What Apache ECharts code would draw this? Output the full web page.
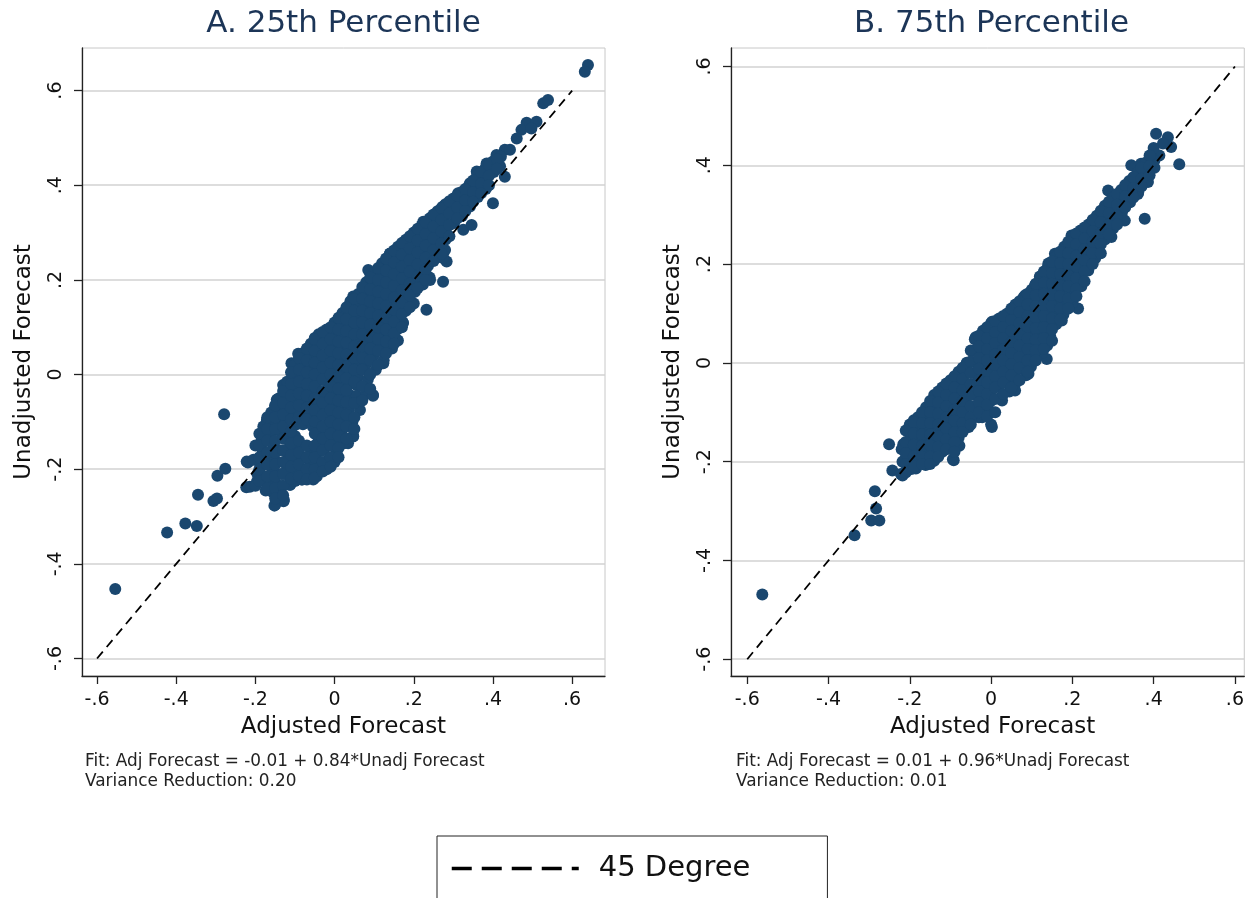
<!DOCTYPE html>
<html><head><meta charset="utf-8">
<script src="https://cdn.jsdelivr.net/npm/echarts@6/dist/echarts.min.js"></script>
<style>html,body{margin:0;padding:0;background:#fff}#c{width:1247px;height:898px}</style>
</head><body><div id="c"></div>
<script>
// ---------- DATA ----------
const tickValues = [-0.6, -0.4, -0.2, 0, 0.2, 0.4, 0.6];
const tickLabels = ['-.6', '-.4', '-.2', '0', '.2', '.4', '.6'];
const panelTitles = ['A. 25th Percentile', 'B. 75th Percentile'];
const xAxisTitle = 'Adjusted Forecast';
const yAxisTitle = 'Unadjusted Forecast';
const notesA = ['Fit: Adj Forecast = -0.01 + 0.84*Unadj Forecast', 'Variance Reduction: 0.20'];
const notesB = ['Fit: Adj Forecast = 0.01 + 0.96*Unadj Forecast', 'Variance Reduction: 0.01'];
const diagonalEnds = [-0.6, 0.6];
const legendLabel = '45 Degree';

// Panel A: [adjusted, unadjusted]
const panelA = [
[-0.554,-0.453],[-0.423,-0.334],[-0.377,-0.315],[-0.348,-0.32],[-0.345,-0.254],[-0.306,-0.267],[-0.297,-0.262],
[-0.296,-0.214],[-0.276,-0.199],[-0.279,-0.084],[-0.219,-0.186],[-0.223,-0.238],[-0.196,-0.226],[-0.152,-0.277],
[-0.129,-0.268],[-0.112,-0.233],[-0.083,-0.222],[-0.184,-0.138],[-0.171,-0.096],[-0.15,-0.068],[-0.146,-0.053],
[-0.13,-0.022],[-0.109,0.024],[-0.092,0.044],[-0.05,0.077],[0.009,0.115],[0.047,0.165],[0.085,0.221],[0.131,0.232],
[0.157,0.256],[0.178,0.281],[0.224,0.323],[0.274,0.355],[0.097,-0.043],[0.056,-0.022],[0.123,0.024],[0.157,0.073],
[0.173,0.109],[0.232,0.137],[0.274,0.196],[0.241,0.2],[0.215,0.196],[0.274,0.256],[0.283,0.239],[-0.054,-0.222],
[-0.02,-0.187],[0.047,-0.131],[0.034,-0.145],[0.022,-0.096],[-0.222,-0.184],[-0.189,-0.187],[-0.184,-0.222],[-0.214,-0.237],
[0.64,0.654],[0.632,0.64],[0.527,0.573],[0.539,0.58],[0.485,0.532],[0.51,0.534],[0.472,0.517],[0.46,0.499],[0.497,0.52],
[0.43,0.475],[0.443,0.475],[0.409,0.464],[0.384,0.446],[0.43,0.418],[0.359,0.429],[0.367,0.411],[0.342,0.404],[0.35,0.386],
[0.4,0.362],[0.312,0.383],[0.308,0.369],[0.283,0.355],[0.333,0.358],[0.249,0.334],[0.325,0.306],[0.346,0.316],[0.27,0.306],
[0.279,0.263],[0.274,0.246],[0.182,0.284],[0.232,0.291],[0.14,0.256],[0.165,0.242],[0.241,0.256],
[-0.2,-0.15],[-0.205,-0.18],[-0.195,-0.21],[-0.2,-0.235],
[-0.18,-0.11],[-0.178,-0.135],[-0.182,-0.16],[-0.176,-0.19],[-0.18,-0.215],[-0.174,-0.245],
[-0.16,-0.08],[-0.158,-0.1],[-0.162,-0.125],[-0.155,-0.15],[-0.16,-0.175],[-0.157,-0.2],[-0.163,-0.225],[-0.155,-0.25],[-0.15,-0.275],
[-0.14,-0.05],[-0.138,-0.07],[-0.142,-0.095],[-0.136,-0.12],[-0.14,-0.16],[-0.144,-0.185],[-0.135,-0.21],[-0.14,-0.235],[-0.128,-0.265],
[-0.12,-0.015],[-0.122,-0.04],[-0.118,-0.065],[-0.12,-0.09],[-0.124,-0.115],[-0.116,-0.14],[-0.12,-0.165],[-0.122,-0.19],[-0.115,-0.215],[-0.113,-0.233],
[-0.1,0.02],[-0.102,-0.005],[-0.098,-0.03],[-0.1,-0.055],[-0.104,-0.08],[-0.096,-0.105],[-0.1,-0.13],[-0.1,-0.155],[-0.102,-0.18],[-0.097,-0.205],[-0.1,-0.225],
[-0.08,0.045],[-0.082,0.02],[-0.078,-0.005],[-0.08,-0.03],[-0.084,-0.055],[-0.077,-0.08],[-0.08,-0.105],[-0.083,-0.15],[-0.078,-0.175],[-0.08,-0.2],[-0.082,-0.222],
[-0.06,0.065],[-0.062,0.04],[-0.058,0.015],[-0.06,-0.01],[-0.064,-0.035],[-0.057,-0.06],[-0.06,-0.085],[-0.055,-0.11],[-0.06,-0.16],[-0.062,-0.185],[-0.056,-0.21],
[-0.04,0.085],[-0.042,0.06],[-0.038,0.035],[-0.04,0.01],[-0.044,-0.015],[-0.037,-0.04],[-0.04,-0.065],[-0.042,-0.09],[-0.038,-0.115],[-0.04,-0.14],[-0.043,-0.165],[-0.037,-0.19],[-0.045,-0.215],
[-0.02,0.095],[-0.022,0.07],[-0.018,0.045],[-0.02,0.02],[-0.024,-0.005],[-0.017,-0.03],[-0.02,-0.055],[-0.022,-0.08],[-0.018,-0.105],[-0.02,-0.13],[-0.024,-0.155],[-0.016,-0.18],[-0.02,-0.2],
[0,0.11],[-0.002,0.085],[0.002,0.06],[0,0.035],[-0.004,0.01],[0.003,-0.015],[0,-0.04],[-0.002,-0.065],[0.002,-0.09],[0,-0.115],[-0.003,-0.14],[0.004,-0.165],[0,-0.185],
[0.02,0.13],[0.018,0.105],[0.022,0.08],[0.02,0.055],[0.016,0.03],[0.023,0.005],[0.02,-0.02],[0.018,-0.045],[0.022,-0.07],[0.02,-0.095],[0.017,-0.12],[0.024,-0.145],
[0.04,0.155],[0.038,0.13],[0.042,0.105],[0.04,0.08],[0.036,0.055],[0.043,0.03],[0.04,0.005],[0.038,-0.02],[0.042,-0.045],[0.035,-0.075],[0.045,-0.1],[0.047,-0.13],
[0.06,0.17],[0.058,0.145],[0.062,0.12],[0.06,0.095],[0.056,0.07],[0.063,0.045],[0.06,0.02],[0.058,-0.005],[0.056,-0.045],[0.064,-0.075],
[0.08,0.195],[0.078,0.17],[0.082,0.145],[0.08,0.12],[0.076,0.095],[0.083,0.07],[0.08,0.045],[0.078,0.02],[0.084,-0.01],[0.08,-0.04],
[0.1,0.215],[0.098,0.19],[0.102,0.165],[0.1,0.14],[0.096,0.115],[0.103,0.09],[0.1,0.065],[0.098,0.04],[0.104,0.01],[0.097,-0.045],
[0.12,0.235],[0.118,0.21],[0.122,0.185],[0.12,0.16],[0.116,0.135],[0.123,0.11],[0.12,0.085],[0.118,0.06],[0.124,0.03],
[0.14,0.255],[0.138,0.23],[0.142,0.205],[0.14,0.18],[0.136,0.155],[0.143,0.13],[0.14,0.105],[0.138,0.08],[0.145,0.055],
[0.16,0.27],[0.158,0.245],[0.162,0.22],[0.16,0.195],[0.156,0.17],[0.163,0.145],[0.16,0.12],[0.158,0.095],[0.16,0.072],
[0.18,0.285],[0.178,0.26],[0.182,0.235],[0.18,0.21],[0.176,0.185],[0.183,0.16],[0.18,0.135],[0.172,0.11],
[0.2,0.3],[0.198,0.275],[0.202,0.25],[0.2,0.225],[0.196,0.2],[0.203,0.175],[0.2,0.15],
[0.22,0.315],[0.218,0.29],[0.222,0.265],[0.22,0.24],[0.216,0.215],[0.223,0.19],
[0.24,0.33],[0.238,0.305],[0.242,0.28],[0.24,0.255],[0.236,0.23],[0.24,0.205],
[0.26,0.345],[0.258,0.32],[0.262,0.295],[0.26,0.27],[0.256,0.25],
[0.28,0.36],[0.278,0.335],[0.282,0.31],[0.28,0.285],
[0.3,0.372],[0.298,0.345],[0.302,0.32],
[0.32,0.385],[0.318,0.36],[0.322,0.335],
[0.34,0.4],[0.338,0.375],[0.342,0.355],
[0.36,0.42],[0.358,0.395],[0.362,0.375],
[0.38,0.435],[0.378,0.41],[0.382,0.392],
[0.4,0.45],[0.402,0.428],[0.42,0.46],[0.418,0.44],
[-0.19,-0.125],[-0.19,-0.15],[-0.19,-0.175],[-0.19,-0.2],[-0.19,-0.225],
[-0.17,-0.09],[-0.17,-0.115],[-0.17,-0.14],[-0.17,-0.165],[-0.17,-0.19],[-0.17,-0.215],[-0.17,-0.24],
[-0.15,-0.065],[-0.15,-0.09],[-0.15,-0.115],[-0.15,-0.14],[-0.15,-0.165],[-0.15,-0.19],[-0.15,-0.215],[-0.15,-0.24],[-0.15,-0.262],
[-0.13,-0.035],[-0.13,-0.06],[-0.13,-0.085],[-0.13,-0.11],[-0.13,-0.135],[-0.13,-0.16],[-0.13,-0.185],[-0.13,-0.21],[-0.13,-0.235],[-0.13,-0.255],
[-0.11,0.005],[-0.11,-0.02],[-0.11,-0.045],[-0.11,-0.07],[-0.11,-0.095],[-0.11,-0.12],[-0.11,-0.145],[-0.11,-0.17],[-0.11,-0.195],[-0.11,-0.22],
[-0.09,0.035],[-0.09,0.01],[-0.09,-0.015],[-0.09,-0.04],[-0.09,-0.065],[-0.09,-0.09],[-0.09,-0.14],[-0.09,-0.165],[-0.09,-0.19],[-0.09,-0.215],
[-0.07,0.055],[-0.07,0.03],[-0.07,0.005],[-0.07,-0.02],[-0.07,-0.045],[-0.07,-0.07],[-0.07,-0.095],[-0.07,-0.15],[-0.07,-0.175],[-0.07,-0.2],[-0.07,-0.222],
[-0.05,0.075],[-0.05,0.05],[-0.05,0.025],[-0.05,0],[-0.05,-0.025],[-0.05,-0.05],[-0.05,-0.075],[-0.05,-0.1],[-0.05,-0.125],[-0.05,-0.15],[-0.05,-0.175],[-0.05,-0.2],[-0.05,-0.218],
[-0.03,0.09],[-0.03,0.065],[-0.03,0.04],[-0.03,0.015],[-0.03,-0.01],[-0.03,-0.035],[-0.03,-0.06],[-0.03,-0.085],[-0.03,-0.11],[-0.03,-0.135],[-0.03,-0.16],[-0.03,-0.185],[-0.03,-0.205],
[-0.01,0.1],[-0.01,0.075],[-0.01,0.05],[-0.01,0.025],[-0.01,0],[-0.01,-0.025],[-0.01,-0.05],[-0.01,-0.075],[-0.01,-0.1],[-0.01,-0.125],[-0.01,-0.15],[-0.01,-0.175],[-0.01,-0.195],
[0.01,0.12],[0.01,0.095],[0.01,0.07],[0.01,0.045],[0.01,0.02],[0.01,-0.005],[0.01,-0.03],[0.01,-0.055],[0.01,-0.08],[0.01,-0.105],[0.01,-0.13],[0.01,-0.155],[0.01,-0.175],
[0.03,0.142],[0.03,0.117],[0.03,0.092],[0.03,0.067],[0.03,0.042],[0.03,0.017],[0.03,-0.008],[0.03,-0.033],[0.03,-0.058],[0.03,-0.085],[0.03,-0.11],[0.03,-0.135],
[0.05,0.16],[0.05,0.135],[0.05,0.11],[0.05,0.085],[0.05,0.06],[0.05,0.035],[0.05,0.01],[0.05,-0.015],[0.05,-0.06],[0.05,-0.09],[0.05,-0.115],
[0.07,0.185],[0.07,0.16],[0.07,0.135],[0.07,0.11],[0.07,0.085],[0.07,0.06],[0.07,0.035],[0.07,0.01],[0.07,-0.025],[0.07,-0.055],
[0.09,0.205],[0.09,0.18],[0.09,0.155],[0.09,0.13],[0.09,0.105],[0.09,0.08],[0.09,0.055],[0.09,0.03],[0.09,0.0],[0.09,-0.03],
[0.11,0.225],[0.11,0.2],[0.11,0.175],[0.11,0.15],[0.11,0.125],[0.11,0.1],[0.11,0.075],[0.11,0.05],[0.11,0.02],
[0.13,0.245],[0.13,0.22],[0.13,0.195],[0.13,0.17],[0.13,0.145],[0.13,0.12],[0.13,0.095],[0.13,0.07],[0.13,0.045],
[0.15,0.262],[0.15,0.237],[0.15,0.212],[0.15,0.187],[0.15,0.162],[0.15,0.137],[0.15,0.112],[0.15,0.087],[0.15,0.065],
[0.17,0.278],[0.17,0.253],[0.17,0.228],[0.17,0.203],[0.17,0.178],[0.17,0.153],[0.17,0.128],[0.17,0.1],
[0.19,0.292],[0.19,0.267],[0.19,0.242],[0.19,0.217],[0.19,0.192],[0.19,0.167],[0.19,0.142],
[0.21,0.308],[0.21,0.283],[0.21,0.258],[0.21,0.233],[0.21,0.208],[0.21,0.183],
[0.23,0.322],[0.23,0.297],[0.23,0.272],[0.23,0.247],[0.23,0.222],[0.23,0.2],
[0.25,0.338],[0.25,0.313],[0.25,0.288],[0.25,0.263],[0.25,0.24],
[0.27,0.352],[0.27,0.327],[0.27,0.302],[0.27,0.277],[0.27,0.255],
[0.29,0.366],[0.29,0.341],[0.29,0.316],[0.29,0.292],
[0.31,0.378],[0.31,0.353],[0.31,0.33],
[0.33,0.392],[0.33,0.368],[0.33,0.345],
[0.35,0.41],[0.35,0.385],[0.35,0.365],
[0.37,0.428],[0.37,0.403],[0.37,0.383],
[0.39,0.442],[0.39,0.42],[0.39,0.4],
[0.41,0.455],[0.41,0.435]
];

// Panel B: [adjusted, unadjusted]
const panelB = [
[-0.563,-0.469],[-0.336,-0.349],[-0.295,-0.319],[-0.275,-0.319],[-0.283,-0.295],[-0.286,-0.26],[-0.251,-0.165],[-0.216,-0.165],
[-0.243,-0.218],[-0.218,-0.228],[-0.216,-0.199],[-0.185,-0.214],[-0.161,-0.207],[-0.157,-0.191],[-0.12,-0.177],[-0.092,-0.197],
[-0.186,-0.13],[-0.19,-0.116],[-0.161,-0.103],[-0.136,-0.069],[-0.112,-0.049],[-0.096,-0.039],[-0.063,-0.008],[-0.038,0.052],
[0.002,0.083],[0.043,0.1],[0.084,0.137],[0.108,0.157],[0.141,0.201],[0.157,0.221],[0.198,0.258],[0.239,0.275],[0.214,0.11],
[0.219,0.157],[0.239,0.187],[0.137,0.008],[0.092,-0.022],[0.145,0.056],[0.117,0.029],[0.059,-0.056],[0.027,-0.076],[0.002,-0.13],
[-0.03,-0.11],[-0.055,-0.13],[-0.12,-0.17],[0.174,0.086],[0.182,0.127],
[0.406,0.464],[0.435,0.457],[0.443,0.437],[0.423,0.444],[0.463,0.402],[0.345,0.4],[0.369,0.403],[0.402,0.41],[0.414,0.42],
[0.378,0.376],[0.353,0.369],[0.386,0.366],[0.288,0.349],[0.345,0.346],[0.361,0.342],[0.378,0.292],[0.304,0.329],[0.288,0.315],
[0.333,0.329],[0.272,0.302],[0.263,0.288],[0.304,0.295],[0.329,0.288],[0.239,0.268],[0.206,0.258],[0.288,0.268],[0.296,0.255],
[0.165,0.218],[0.19,0.218],[0.231,0.221],[0.255,0.214],
[-0.22,-0.175],[-0.218,-0.2],[-0.222,-0.225],
[-0.2,-0.125],[-0.198,-0.148],[-0.202,-0.17],[-0.2,-0.195],[-0.196,-0.215],
[-0.18,-0.11],[-0.182,-0.132],[-0.178,-0.155],[-0.18,-0.178],[-0.184,-0.2],
[-0.16,-0.09],[-0.158,-0.112],[-0.162,-0.135],[-0.16,-0.158],[-0.156,-0.18],[-0.162,-0.203],
[-0.14,-0.065],[-0.142,-0.088],[-0.138,-0.11],[-0.14,-0.133],[-0.144,-0.155],[-0.137,-0.178],[-0.14,-0.198],
[-0.12,-0.05],[-0.118,-0.072],[-0.122,-0.095],[-0.12,-0.118],[-0.116,-0.14],[-0.123,-0.163],[-0.12,-0.18],
[-0.1,-0.035],[-0.102,-0.058],[-0.098,-0.08],[-0.1,-0.103],[-0.104,-0.125],[-0.097,-0.148],[-0.1,-0.17],[-0.094,-0.195],
[-0.08,-0.018],[-0.078,-0.04],[-0.082,-0.063],[-0.08,-0.085],[-0.076,-0.108],[-0.083,-0.13],[-0.08,-0.152],[-0.078,-0.168],
[-0.06,0.0],[-0.062,-0.022],[-0.058,-0.045],[-0.06,-0.068],[-0.064,-0.09],[-0.057,-0.113],[-0.06,-0.13],
[-0.04,0.048],[-0.042,0.025],[-0.038,0.002],[-0.04,-0.02],[-0.044,-0.043],[-0.037,-0.065],[-0.04,-0.088],[-0.042,-0.11],
[-0.02,0.065],[-0.018,0.042],[-0.022,0.02],[-0.02,-0.003],[-0.016,-0.025],[-0.023,-0.048],[-0.02,-0.07],[-0.018,-0.093],[-0.022,-0.11],
[0,0.08],[-0.002,0.057],[0.002,0.035],[0,0.012],[-0.004,-0.01],[0.003,-0.033],[0,-0.055],[-0.002,-0.078],[0.002,-0.1],[0,-0.125],
[0.02,0.09],[0.018,0.067],[0.022,0.045],[0.02,0.022],[0.016,0.0],[0.023,-0.023],[0.02,-0.045],[0.024,-0.07],
[0.04,0.1],[0.038,0.078],[0.042,0.055],[0.04,0.033],[0.036,0.01],[0.043,-0.013],[0.04,-0.035],[0.045,-0.058],
[0.06,0.118],[0.058,0.095],[0.062,0.073],[0.06,0.05],[0.056,0.028],[0.063,0.005],[0.06,-0.018],[0.058,-0.045],
[0.08,0.133],[0.078,0.11],[0.082,0.088],[0.08,0.065],[0.076,0.043],[0.083,0.02],[0.08,-0.003],[0.086,-0.025],
[0.1,0.148],[0.098,0.125],[0.102,0.103],[0.1,0.08],[0.096,0.058],[0.103,0.035],[0.1,0.012],[0.098,-0.008],
[0.12,0.175],[0.118,0.152],[0.122,0.13],[0.12,0.107],[0.116,0.085],[0.123,0.062],[0.12,0.04],[0.125,0.02],
[0.14,0.195],[0.138,0.172],[0.142,0.15],[0.14,0.127],[0.136,0.105],[0.143,0.082],[0.14,0.06],[0.138,0.035],
[0.16,0.215],[0.158,0.192],[0.162,0.17],[0.16,0.147],[0.156,0.125],[0.163,0.1],[0.16,0.078],
[0.18,0.235],[0.178,0.212],[0.182,0.19],[0.18,0.167],[0.176,0.145],[0.183,0.12],[0.178,0.098],
[0.2,0.255],[0.198,0.232],[0.202,0.21],[0.2,0.187],[0.196,0.165],[0.203,0.14],[0.2,0.122],
[0.22,0.268],[0.218,0.245],[0.222,0.222],[0.22,0.2],[0.216,0.177],[0.222,0.155],
[0.24,0.28],[0.238,0.257],[0.242,0.235],[0.24,0.212],[0.236,0.192],
[0.26,0.298],[0.258,0.275],[0.262,0.253],[0.26,0.23],[0.256,0.212],
[0.28,0.318],[0.278,0.295],[0.282,0.272],[0.28,0.25],
[0.3,0.335],[0.298,0.312],[0.302,0.29],[0.3,0.272],
[0.32,0.35],[0.318,0.328],[0.322,0.305],
[0.34,0.368],[0.338,0.345],[0.342,0.325],
[0.36,0.385],[0.358,0.362],[0.362,0.345],
[0.38,0.405],[0.378,0.385],[0.382,0.37],
[0.4,0.435],[0.398,0.412],[0.402,0.395],
[-0.21,-0.137],[-0.21,-0.16],[-0.21,-0.183],[-0.21,-0.205],[-0.21,-0.222],
[-0.19,-0.12],[-0.19,-0.143],[-0.19,-0.166],[-0.19,-0.189],[-0.19,-0.21],
[-0.17,-0.1],[-0.17,-0.122],[-0.17,-0.145],[-0.17,-0.168],[-0.17,-0.19],[-0.17,-0.205],
[-0.15,-0.077],[-0.15,-0.1],[-0.15,-0.122],[-0.15,-0.145],[-0.15,-0.167],[-0.15,-0.19],[-0.15,-0.205],
[-0.13,-0.058],[-0.13,-0.08],[-0.13,-0.103],[-0.13,-0.125],[-0.13,-0.148],[-0.13,-0.17],[-0.13,-0.19],
[-0.11,-0.042],[-0.11,-0.065],[-0.11,-0.088],[-0.11,-0.11],[-0.11,-0.133],[-0.11,-0.155],[-0.11,-0.175],
[-0.09,-0.027],[-0.09,-0.05],[-0.09,-0.072],[-0.09,-0.095],[-0.09,-0.117],[-0.09,-0.14],[-0.09,-0.16],[-0.09,-0.18],
[-0.07,-0.01],[-0.07,-0.032],[-0.07,-0.055],[-0.07,-0.077],[-0.07,-0.1],[-0.07,-0.122],[-0.07,-0.14],
[-0.05,0.025],[-0.05,0.003],[-0.05,-0.02],[-0.05,-0.043],[-0.05,-0.065],[-0.05,-0.088],[-0.05,-0.11],[-0.05,-0.125],
[-0.03,0.055],[-0.03,0.033],[-0.03,0.01],[-0.03,-0.012],[-0.03,-0.035],[-0.03,-0.057],[-0.03,-0.08],[-0.03,-0.1],
[-0.01,0.072],[-0.01,0.05],[-0.01,0.027],[-0.01,0.005],[-0.01,-0.018],[-0.01,-0.04],[-0.01,-0.063],[-0.01,-0.085],[-0.01,-0.108],
[0.01,0.085],[0.01,0.062],[0.01,0.04],[0.01,0.017],[0.01,-0.005],[0.01,-0.028],[0.01,-0.05],[0.01,-0.073],[0.01,-0.1],
[0.03,0.095],[0.03,0.072],[0.03,0.05],[0.03,0.027],[0.03,0.005],[0.03,-0.018],[0.03,-0.04],[0.03,-0.063],
[0.05,0.11],[0.05,0.087],[0.05,0.065],[0.05,0.042],[0.05,0.02],[0.05,-0.003],[0.05,-0.025],[0.05,-0.05],
[0.07,0.125],[0.07,0.103],[0.07,0.08],[0.07,0.058],[0.07,0.035],[0.07,0.012],[0.07,-0.01],[0.07,-0.035],
[0.09,0.14],[0.09,0.118],[0.09,0.095],[0.09,0.073],[0.09,0.05],[0.09,0.028],[0.09,0.005],[0.09,-0.018],
[0.11,0.16],[0.11,0.137],[0.11,0.115],[0.11,0.092],[0.11,0.07],[0.11,0.047],[0.11,0.025],[0.11,0.005],
[0.13,0.185],[0.13,0.162],[0.13,0.14],[0.13,0.117],[0.13,0.095],[0.13,0.072],[0.13,0.05],[0.13,0.028],
[0.15,0.205],[0.15,0.182],[0.15,0.16],[0.15,0.137],[0.15,0.115],[0.15,0.09],[0.15,0.068],[0.15,0.045],
[0.17,0.225],[0.17,0.202],[0.17,0.18],[0.17,0.157],[0.17,0.135],[0.17,0.11],[0.17,0.088],
[0.19,0.245],[0.19,0.222],[0.19,0.2],[0.19,0.177],[0.19,0.155],[0.19,0.13],[0.19,0.11],
[0.21,0.262],[0.21,0.24],[0.21,0.217],[0.21,0.195],[0.21,0.172],[0.21,0.15],[0.21,0.135],
[0.23,0.274],[0.23,0.252],[0.23,0.23],[0.23,0.207],[0.23,0.185],[0.23,0.165],
[0.25,0.29],[0.25,0.267],[0.25,0.245],[0.25,0.222],[0.25,0.2],
[0.27,0.308],[0.27,0.285],[0.27,0.262],[0.27,0.24],[0.27,0.222],
[0.29,0.326],[0.29,0.303],[0.29,0.28],[0.29,0.26],
[0.31,0.342],[0.31,0.32],[0.31,0.298],[0.31,0.28],
[0.33,0.36],[0.33,0.337],[0.33,0.315],
[0.35,0.376],[0.35,0.354],[0.35,0.335],
[0.37,0.395],[0.37,0.373],[0.37,0.357],
[0.39,0.42],[0.39,0.398],[0.39,0.38]
];

// ---------- CHART ----------
const FONT = 'DejaVu Sans';
const MARKER = '#1a476f';
const fmt = v => { const i = tickValues.findIndex(t => Math.abs(t - v) < 1e-9); return i >= 0 ? tickLabels[i] : ''; };

function xAxisCfg(gridIndex, min, max, namePad) {
  return {
    type: 'value', gridIndex, min, max,
    name: xAxisTitle, nameLocation: 'middle', nameGap: 40,
    nameTextStyle: { fontFamily: FONT, fontSize: 23, color: '#111', padding: namePad },
    axisLine: { show: true, onZero: false, lineStyle: { color: '#222', width: 1.3 } },
    axisTick: { show: true, inside: false, length: 8, customValues: tickValues, lineStyle: { color: '#222', width: 1.3 } },
    axisLabel: { customValues: tickValues, formatter: fmt, margin: 15, fontFamily: FONT, fontSize: 19, color: '#111', showMinLabel: true, showMaxLabel: true },
    splitLine: { show: false }
  };
}
function yAxisCfg(gridIndex, min, max) {
  return {
    type: 'value', gridIndex, min, max,
    name: yAxisTitle, nameLocation: 'middle', nameGap: 46,
    nameTextStyle: { fontFamily: FONT, fontSize: 23, color: '#111' },
    axisLine: { show: true, onZero: false, lineStyle: { color: '#222', width: 1.3 } },
    axisTick: { show: true, inside: false, length: 8, customValues: tickValues, lineStyle: { color: '#222', width: 1.3 } },
    axisLabel: { customValues: tickValues, formatter: fmt, rotate: 90, margin: 16, fontFamily: FONT, fontSize: 19, color: '#111' },
    splitLine: { show: true, lineStyle: { color: '#d2d2d2', width: 1.6 } }
  };
}

const scatterStyle = { color: MARKER, opacity: 1 };
const diagStyle = { color: '#000', width: 1.8, type: [9, 6] };

const chart = echarts.init(document.getElementById('c'), null, { renderer: 'canvas' });
chart.setOption({
  backgroundColor: '#fff',
  animation: false,
  grid: [
    { left: 82, right: 642, top: 48, bottom: 222, show: true, borderColor: '#c8c8c8', borderWidth: 1 },
    { left: 731, right: 0, top: 48, bottom: 222, show: true, borderColor: '#c8c8c8', borderWidth: 1 }
  ],
  xAxis: [xAxisCfg(0, -0.638, 0.683, [0, 0, 0, 0]), xAxisCfg(1, -0.64, 0.623, [0, 0, 0, 10])],
  yAxis: [yAxisCfg(0, -0.637, 0.69), yAxisCfg(1, -0.634, 0.6375)],
  legend: {
    data: [legendLabel], left: 437, top: 836, orient: 'horizontal',
    itemWidth: 127, itemHeight: 20, padding: [18, 77, 55, 13],
    borderColor: '#222', borderWidth: 1, selectedMode: false,
    textStyle: { fontFamily: FONT, fontSize: 29, color: '#111', padding: [0, 0, 0, 15] },
    itemStyle: { color: 'rgba(0,0,0,0)', opacity: 0, borderWidth: 0 },
    lineStyle: { width: 3.5, type: [20, 10], color: '#000' }
  },
  graphic: [
    { type: 'text', x: 343.5, y: 24, style: { text: panelTitles[0], align: 'center', verticalAlign: 'middle', font: '31px "DejaVu Sans"', fill: '#1c3557' } },
    { type: 'text', x: 991.5, y: 24, style: { text: panelTitles[1], align: 'center', verticalAlign: 'middle', font: '31px "DejaVu Sans"', fill: '#1c3557' } },
    { type: 'text', x: 85, y: 752, style: { text: notesA.join('\n'), font: '16.9px "DejaVu Sans"', lineHeight: 20, fill: '#222' } },
    { type: 'text', x: 736, y: 752, style: { text: notesB.join('\n'), font: '16.9px "DejaVu Sans"', lineHeight: 20, fill: '#222' } }
  ],
  series: [
    { type: 'scatter', name: 'A', xAxisIndex: 0, yAxisIndex: 0, data: panelA, symbol: 'circle', symbolSize: 12, itemStyle: scatterStyle, z: 2 },
    { type: 'line', name: legendLabel, xAxisIndex: 0, yAxisIndex: 0, data: diagonalEnds.map(v => [v, v]), symbol: 'none',
      itemStyle: { color: '#000' }, lineStyle: diagStyle, z: 3 },
    { type: 'scatter', name: 'B', xAxisIndex: 1, yAxisIndex: 1, data: panelB, symbol: 'circle', symbolSize: 12, itemStyle: scatterStyle, z: 2 },
    { type: 'line', name: legendLabel, xAxisIndex: 1, yAxisIndex: 1, data: diagonalEnds.map(v => [v, v]), symbol: 'none',
      itemStyle: { color: '#000' }, lineStyle: diagStyle, z: 3 }
  ]
});
</script></body></html>
